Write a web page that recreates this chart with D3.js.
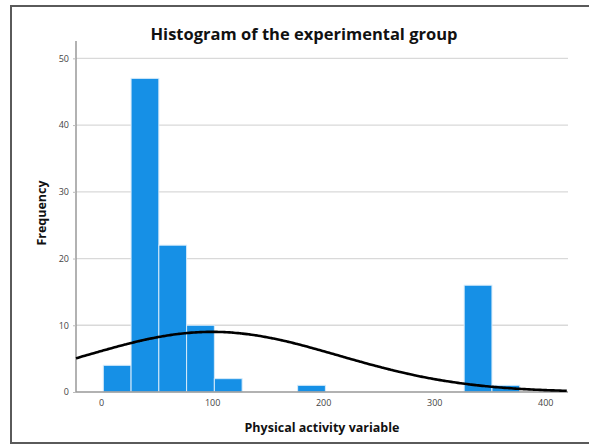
<!DOCTYPE html>
<html>
<head>
<meta charset="utf-8">
<script src="https://cdn.jsdelivr.net/npm/d3@7"></script>
<style>
  html, body { margin: 0; padding: 0; background: #fff; }
  svg { display: block; font-family: "Open Sans", "Noto Sans", sans-serif; }
</style>
</head>
<body>
<div id="chart"></div>
<script>
// Histogram bins (lower edge of each bin, width 25) and counts.
const binStarts = [2, 27, 52, 77, 102, 177, 327, 352];
const binCounts = [4, 47, 22, 10, 2, 1, 16, 1];
const binWidth = 25;

// Fitted normal curve parameters (SPSS overlay).
const curveMean = 100;
const curveSd = 114;
const curveN = 103;

const yTicks = [0, 10, 20, 30, 40, 50];
const xTicks = [0, 100, 200, 300, 400];

const W = 589, H = 445;
const plot = { left: 76, right: 568, top: 41, bottom: 392 };

const svg = d3.select("#chart").append("svg")
  .attr("width", W).attr("height", H);

// Outer frame
svg.append("rect")
  .attr("x", 11).attr("y", 6)
  .attr("width", W + 10).attr("height", 437)
  .attr("fill", "none")
  .attr("stroke", "#5a5a5a")
  .attr("stroke-width", 2);

const x = d3.scaleLinear().domain([-22.6, 420.5]).range([plot.left, plot.right]);
const y = d3.scaleLinear().domain([0, 52.6]).range([plot.bottom, plot.top]);

// Gridlines
svg.append("g")
  .selectAll("line")
  .data(yTicks.filter(d => d > 0))
  .join("line")
    .attr("x1", plot.left).attr("x2", plot.right)
    .attr("y1", d => y(d)).attr("y2", d => y(d))
    .attr("stroke", "#d9d9d9")
    .attr("stroke-width", 1.3);

// Bars
svg.append("g")
  .selectAll("rect")
  .data(binStarts.map((s, i) => ({ s, c: binCounts[i] })))
  .join("rect")
    .attr("x", d => x(d.s))
    .attr("y", d => y(d.c))
    .attr("width", d => x(d.s + binWidth) - x(d.s))
    .attr("height", d => y(0) - y(d.c))
    .attr("fill", "#1690e6")
    .attr("stroke", "#d6ebfa")
    .attr("stroke-width", 1);

// Axes
const yAxis = svg.append("g")
  .attr("transform", `translate(${plot.left},0)`)
  .call(d3.axisLeft(y).tickValues(yTicks).tickSize(3).tickPadding(4));
const xAxis = svg.append("g")
  .attr("transform", `translate(0,${plot.bottom})`)
  .call(d3.axisBottom(x).tickValues(xTicks).tickSize(0).tickPadding(8));

[yAxis, xAxis].forEach(g => {
  g.select(".domain").attr("stroke", "#999").attr("stroke-width", 1.5);
  g.selectAll(".tick line").attr("stroke", "#bbb");
  g.selectAll(".tick text")
    .attr("fill", "#444")
    .attr("font-size", 9)
    .attr("font-family", "'Open Sans', sans-serif");
});
yAxis.select(".domain").attr("d", `M0,${plot.bottom}V${plot.top}`);
xAxis.select(".domain").attr("d", `M${plot.left},0H${plot.right}`);

// Normal curve
const normal = v => curveN * binWidth / (curveSd * Math.sqrt(2 * Math.PI)) *
  Math.exp(-0.5 * Math.pow((v - curveMean) / curveSd, 2));
const xs = d3.range(x.domain()[0], x.domain()[1] + 0.01, 2);
svg.append("path")
  .datum(xs)
  .attr("fill", "none")
  .attr("stroke", "#000")
  .attr("stroke-width", 2.6)
  .attr("d", d3.line().x(d => x(d)).y(d => y(normal(d))).curve(d3.curveBasis));

// Titles
svg.append("text")
  .attr("x", 304).attr("y", 40)
  .attr("text-anchor", "middle")
  .attr("font-size", 16.5).attr("font-weight", 700)
  .attr("fill", "#111")
  .text("Histogram of the experimental group");

svg.append("text")
  .attr("x", 322).attr("y", 432)
  .attr("text-anchor", "middle")
  .attr("font-size", 12.5).attr("font-weight", 700)
  .attr("fill", "#111")
  .text("Physical activity variable");

svg.append("text")
  .attr("transform", "translate(46,213) rotate(-90)")
  .attr("text-anchor", "middle")
  .attr("font-size", 12.5).attr("font-weight", 700)
  .attr("fill", "#111")
  .text("Frequency");
</script>
</body>
</html>
